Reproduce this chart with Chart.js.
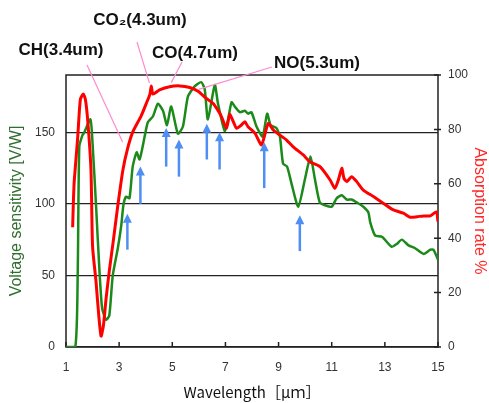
<!DOCTYPE html>
<html>
<head>
<meta charset="utf-8">
<script src="https://cdn.jsdelivr.net/npm/chart.js@4.4.1/dist/chart.umd.min.js"></script>
<style>
  body { margin: 0; background: #fff; }
</style>
</head>
<body>
<canvas id="myChart" width="489" height="403"></canvas>
<script>
// voltage sensitivity (green, left axis)
const wlGreen = [1.00, 1.35, 1.44, 1.50, 1.62, 1.69, 1.92, 2.00, 2.13, 2.26, 2.36, 2.51, 2.63, 2.76, 2.95, 3.08,
  3.16, 3.26, 3.39, 3.51, 3.66, 3.77, 3.96, 4.08, 4.27, 4.46, 4.65, 4.80, 4.96, 5.21, 5.40, 5.59, 5.84, 6.09,
  6.22, 6.34, 6.60, 6.72, 6.97, 7.10, 7.23, 7.35, 7.54, 7.73, 7.85, 7.98, 8.17, 8.40, 8.57, 8.70, 8.92, 9.05,
  9.17, 9.32, 9.49, 9.74, 9.99, 10.20, 10.37, 10.55, 10.75, 11.00, 11.19, 11.38, 11.57, 11.75, 11.94, 12.19,
  12.38, 12.45, 12.63, 12.89, 13.26, 13.45, 13.64, 13.89, 14.14, 14.46, 14.71, 14.83, 15.00];
const voltage = [0, 0, 50, 140, 148, 150, 159, 142, 99, 53, 27, 19, 22, 50, 69, 85,
  99, 105, 104, 126, 136, 131, 147, 157, 161, 170, 165, 155, 168, 149, 154, 175, 182, 185,
  180, 159, 183, 170, 151, 159, 171, 168, 164, 165, 163, 164, 154, 147, 163, 155, 153, 147,
  128, 126, 114, 98, 117, 133, 117, 101, 99, 98, 104, 106, 103, 103, 101, 98,
  94, 87, 78, 77, 70, 72, 75, 71, 69, 65, 68, 68, 61];

// absorption rate (red, right axis)
const wlRed = [1.25, 1.28, 1.31, 1.44, 1.54, 1.65, 1.73, 1.82, 1.94, 2.00, 2.13, 2.23, 2.32, 2.41, 2.51, 2.63,
  2.78, 2.95, 3.14, 3.32, 3.51, 3.83, 4.04, 4.16, 4.21, 4.27, 4.52, 4.90, 5.28, 5.66, 5.97, 6.28, 6.53, 6.72,
  6.85, 7.04, 7.16, 7.29, 7.42, 7.60, 7.73, 7.85, 8.11, 8.36, 8.61, 8.80, 9.05, 9.30, 9.55, 9.93, 10.18, 10.56,
  10.94, 11.12, 11.25, 11.38, 11.46, 11.57, 11.75, 11.94, 12.19, 12.57, 12.95, 13.32, 13.70, 13.95, 14.21,
  14.46, 14.71, 14.94, 15.00];
const absorption = [44, 54, 61, 77, 91, 93, 91, 83, 65, 37, 24, 12, 4, 8, 18, 28,
  39, 52, 65, 73, 79, 85, 90, 93, 96, 93, 94.5, 95.7, 96, 95.4, 94, 91.4, 89.6, 87,
  84.7, 80.4, 85.5, 83, 80.4, 81.6, 82.8, 81, 78.6, 74.3, 82.2, 79.8, 77.9, 76.1, 73.6, 70.6, 68.1, 66.3,
  61.4, 58.3, 61.4, 65.7, 62, 60.8, 62.6, 60.8, 57.7, 55.3, 52.8, 50.4, 49.2, 47.7, 47.9,
  48.2, 48.2, 49.7, 46.1];

// gas absorption labels, pointing at the absorption curve
const gasNames = ['CH(3.4um)', 'CO\u2082(4.3um)', 'CO(4.7um)', 'NO(5.3um)'];
const gasWl = [3.13, 4.14, 4.96, 5.99];
const gasRate = [75.4, 97, 97.2, 94.7];

// blue arrows marking dips of the sensitivity curve
const arrowWl = [3.31, 3.80, 4.77, 5.25, 6.30, 6.78, 8.46, 9.80];
const arrowTip = [93, 126, 153, 145, 156, 150, 143, 92];
const arrowTail = [68, 100, 126, 119, 131, 124, 111, 67];

const toPoints = (xs, ys) => xs.map((x, i) => ({ x: x, y: ys[i] }));

// label anchors in canvas pixels (layout only)
const labelPos = [[61, 50], [140, 20], [195, 53], [317, 63]];
const lineStart = [[87, 65], [137, 42], [182, 62], [272, 67]];

const overlay = {
  id: 'overlay',
  beforeDatasetsDraw(chart) {
    const { ctx, chartArea: a, scales } = chart;
    ctx.save();
    ctx.strokeStyle = '#222';
    ctx.lineWidth = 1.5;
    ctx.strokeRect(a.left, a.top, a.width, a.height);
    ctx.beginPath();
    scales.x.ticks.forEach(t => {
      const px = scales.x.getPixelForValue(t.value);
      ctx.moveTo(px, a.bottom);
      ctx.lineTo(px, a.bottom - 5);
    });
    scales.y2.ticks.forEach(t => {
      const py = scales.y2.getPixelForValue(t.value);
      ctx.moveTo(a.right - 4, py);
      ctx.lineTo(a.right + 3, py);
    });
    ctx.stroke();
    ctx.restore();
  },
  afterDatasetsDraw(chart) {
    const { ctx, scales } = chart;
    ctx.save();
    // blue arrows
    ctx.strokeStyle = '#4f8ef2';
    ctx.fillStyle = '#4f8ef2';
    ctx.lineWidth = 2.5;
    arrowWl.forEach((w, i) => {
      const px = scales.x.getPixelForValue(w);
      const tip = scales.y.getPixelForValue(arrowTip[i]);
      const tail = scales.y.getPixelForValue(arrowTail[i]);
      ctx.beginPath();
      ctx.moveTo(px, tail);
      ctx.lineTo(px, tip + 6);
      ctx.stroke();
      ctx.beginPath();
      ctx.moveTo(px, tip);
      ctx.lineTo(px - 4.5, tip + 9);
      ctx.lineTo(px + 4.5, tip + 9);
      ctx.closePath();
      ctx.fill();
    });
    // pink leader lines
    ctx.strokeStyle = '#ff8ad0';
    ctx.lineWidth = 1.2;
    gasWl.forEach((w, i) => {
      ctx.beginPath();
      ctx.moveTo(lineStart[i][0], lineStart[i][1]);
      ctx.lineTo(scales.x.getPixelForValue(w), scales.y2.getPixelForValue(gasRate[i]));
      ctx.stroke();
    });
    // labels
    ctx.fillStyle = '#111';
    ctx.font = 'bold 17px "Liberation Sans", Arial, sans-serif';
    ctx.textAlign = 'center';
    ctx.textBaseline = 'middle';
    gasNames.forEach((n, i) => ctx.fillText(n, labelPos[i][0], labelPos[i][1]));
    ctx.restore();
  }
};

const tickFont = { family: '"Liberation Sans", Arial, sans-serif', size: 12 };

const config = {
  type: 'line',
  data: {
    datasets: [
      {
        label: 'Absorption rate',
        data: toPoints(wlRed, absorption),
        yAxisID: 'y2',
        borderColor: '#ff0000',
        borderWidth: 3,
        pointRadius: 0,
        tension: 0.2,
        fill: false
      },
      {
        label: 'Voltage sensitivity',
        data: toPoints(wlGreen, voltage),
        yAxisID: 'y',
        borderColor: '#1b8a1b',
        borderWidth: 2.5,
        pointRadius: 0,
        tension: 0.2,
        fill: false
      }
    ]
  },
  options: {
    responsive: false,
    animation: false,
    layout: { padding: { top: 75, left: 0, right: 0, bottom: 0 } },
    plugins: {
      legend: { display: false },
      tooltip: { enabled: false }
    },
    scales: {
      x: {
        type: 'linear',
        min: 1,
        max: 15,
        border: { display: false },
        grid: { display: false, drawTicks: false },
        ticks: { stepSize: 2, padding: 13, color: '#333', font: tickFont, maxRotation: 0 },
        title: {
          display: true,
          text: 'Wavelength［μｍ］',
          color: '#111',
          font: { family: '"Noto Sans CJK JP", "Liberation Sans", sans-serif', size: 15 },
          padding: { top: 0, bottom: 2 }
        },
        afterFit: s => { s.height = 56; }
      },
      y: {
        position: 'left',
        min: 0,
        max: 190,
        border: { display: false },
        grid: { color: '#222', lineWidth: 1.3, drawTicks: false },
        ticks: {
          stepSize: 50,
          includeBounds: false,
          padding: 11,
          color: '#333',
          font: tickFont,
          callback: v => (v % 50 === 0 ? v : '')
        },
        title: {
          display: true,
          text: 'Voltage sensitivity [V/W]',
          color: '#2e6e2e',
          font: { family: '"Liberation Sans", Arial, sans-serif', size: 16 },
          padding: { top: 7, bottom: 0 }
        },
        afterFit: s => { s.width = 66; }
      },
      y2: {
        position: 'right',
        min: 0,
        max: 100,
        border: { display: false },
        grid: { drawOnChartArea: false, drawTicks: false },
        ticks: { stepSize: 20, padding: 10, color: '#333', font: tickFont },
        title: {
          display: true,
          text: 'Absorption rate %',
          color: '#ff2a2a',
          font: { family: '"Liberation Sans", Arial, sans-serif', size: 16 },
          padding: { top: 0, bottom: 0 }
        },
        afterFit: s => { s.width = 51; }
      }
    }
  },
  plugins: [overlay]
};

const ctx = document.getElementById('myChart').getContext('2d');
const myChart = new Chart(ctx, config);
</script>
</body>
</html>
